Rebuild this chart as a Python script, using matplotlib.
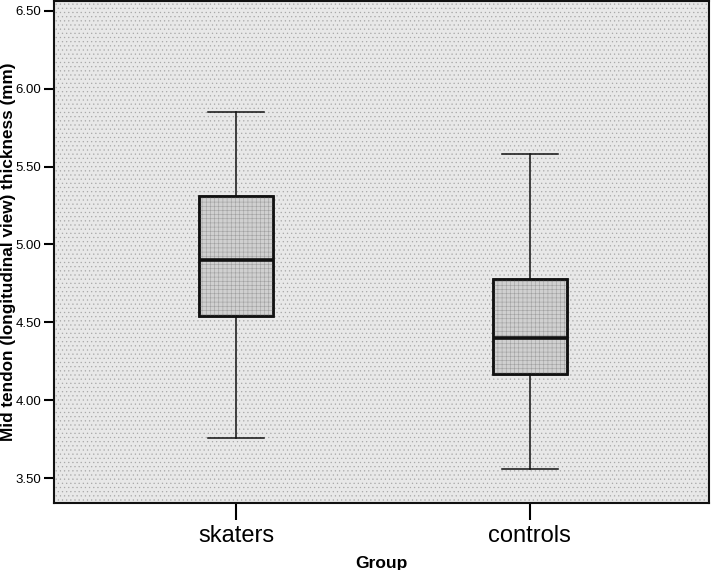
import matplotlib
matplotlib.use("Agg")
from matplotlib import pyplot as plt
from matplotlib.patches import PathPatch

# Werte (mm)
groups = ["skaters", "controls"]
whisker_low = [3.76, 3.56]
q1 = [4.54, 4.17]
median = [4.90, 4.40]
q3 = [5.31, 4.78]
whisker_high = [5.85, 5.58]

plt.rcParams['font.family'] = ['Liberation Sans', 'DejaVu Sans']
plt.rcParams['hatch.linewidth'] = 0.4

fig = plt.figure(figsize=(7.11, 5.70), dpi=100)
ax = fig.add_axes([0.076, 0.1175, 0.921, 0.881])
ax.set_facecolor('#e8e8e8')
# gepunkteter Hintergrund wie im SPSS-Diagramm
ax.patch.set_hatch('....')
ax.patch.set_edgecolor('#a8a8a8')

stats = []
for i in range(len(groups)):
    stats.append({
        "whislo": whisker_low[i], "q1": q1[i], "med": median[i],
        "q3": q3[i], "whishi": whisker_high[i], "label": groups[i],
    })

bp = ax.bxp(stats, positions=[1, 2], widths=0.25, patch_artist=True,
            showfliers=False,
            boxprops=dict(facecolor='#d0d0d0', edgecolor='#111111', linewidth=1.8),
            medianprops=dict(color='#111111', linewidth=2.6),
            whiskerprops=dict(color='#111111', linewidth=1.1),
            capprops=dict(color='#111111', linewidth=1.1),
            capwidths=0.19)
# feines Raster in den Boxen
for b in bp['boxes']:
    ax.add_patch(PathPatch(b.get_path(), transform=b.get_transform(),
                           facecolor='none', edgecolor='#a0a0a0', hatch='++++',
                           linewidth=0, zorder=b.get_zorder() + 0.1))
    b.set_facecolor('#d0d0d0')
for b in bp['boxes']:
    outline = PathPatch(b.get_path(), transform=b.get_transform(),
                        facecolor='none', edgecolor='#111111', linewidth=1.8,
                        zorder=b.get_zorder() + 0.2)
    ax.add_patch(outline)
for m in bp['medians']:
    m.set_zorder(5)

ax.set_xlim(0.381, 2.609)
ax.set_ylim(3.34, 6.564)
ax.set_yticks([3.5, 4.0, 4.5, 5.0, 5.5, 6.0, 6.5])
ax.set_yticklabels(["%.2f" % v for v in ax.get_yticks()])

for s in ax.spines.values():
    s.set_linewidth(1.5)
    s.set_color('#111111')

ax.tick_params(axis='y', direction='out', length=7, width=1.5, labelsize=9.5, pad=2)
ax.tick_params(axis='x', direction='out', length=12, width=1.5, labelsize=17, pad=4)

ax.set_ylabel('Mid tendon (longitudinal view) thickness (mm)', fontsize=12.3,
              fontweight='bold', labelpad=0)
ax.set_xlabel('Group', fontsize=12.5, fontweight='bold', labelpad=6)

fig.savefig('out.png', dpi=100)
